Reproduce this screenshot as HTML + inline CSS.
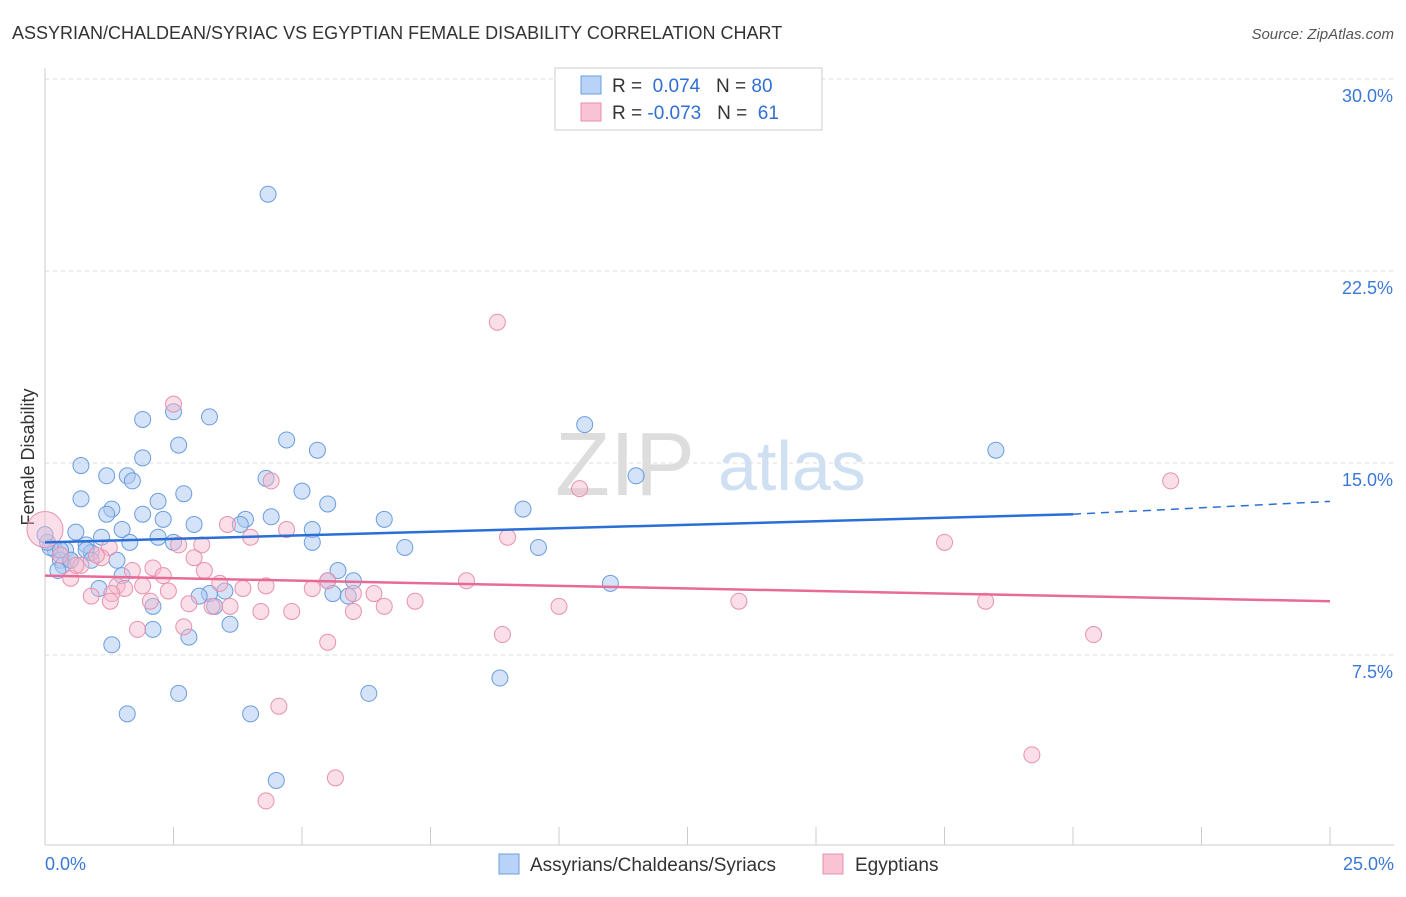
<!DOCTYPE html>
<html><head><meta charset="utf-8"><style>
body{margin:0;background:#fff;font-family:"Liberation Sans",sans-serif}
svg text{font-family:"Liberation Sans",sans-serif}
</style></head><body>
<svg id="c" width="1406" height="892">
<text x="12" y="39" font-size="18" fill="#333">ASSYRIAN/CHALDEAN/SYRIAC VS EGYPTIAN FEMALE DISABILITY CORRELATION CHART</text>
<text x="1394" y="39" font-size="15" fill="#555" font-style="italic" text-anchor="end">Source: ZipAtlas.com</text>
<text x="34" y="457" font-size="18" fill="#333" transform="rotate(-90 34 457)" text-anchor="middle">Female Disability</text>
<text x="555" y="495" font-size="90" fill="#ddd" font-family="Liberation Serif">ZIP</text>
<text x="718" y="490" font-size="70" fill="#cfe0f3">atlas</text>
<g id="grid"></g><g id="pts"></g><g id="lines"></g>
<g>
<rect x="555" y="68" width="267" height="62" fill="#fff" stroke="#ccc"/>
<rect x="581" y="76" width="20" height="18" fill="#b8d3f5" stroke="#6a9de0"/>
<rect x="581" y="103" width="20" height="18" fill="#f9c3d4" stroke="#e891ad"/>
<text x="612" y="92" font-size="19" fill="#333">R = <tspan fill="#2f6fd4">&#160;0.074</tspan>&#160;&#160;&#160;N = <tspan fill="#2f6fd4">80</tspan></text>
<text x="612" y="119" font-size="19" fill="#333">R = <tspan fill="#2f6fd4">-0.073</tspan>&#160;&#160;&#160;N = <tspan fill="#2f6fd4">&#160;61</tspan></text>
</g>
<g>
<rect x="499" y="854" width="20" height="20" fill="#b8d3f5" stroke="#6a9de0"/>
<text x="530" y="871" font-size="19" fill="#333">Assyrians/Chaldeans/Syriacs</text>
<rect x="823" y="854" width="20" height="20" fill="#f9c3d4" stroke="#e891ad"/>
<text x="855" y="871" font-size="19" fill="#333">Egyptians</text>
</g>
<text x="45" y="870" font-size="18" fill="#3a78d8">0.0%</text>
<text x="1394" y="870" font-size="18" fill="#3a78d8" text-anchor="end">25.0%</text>
</svg>
<script>
const yTicks=[7.5,15,22.5,30];
const yTickLabels=["7.5%","15.0%","22.5%","30.0%"];
const blueX=[4.34,10.5,18.5,11.5,1.9,2.5,3.2,4.7,5.3,2.6,0.7,1.9,1.6,1.2,1.7,4.3,5.0,2.7,0.7,2.2,5.5,1.3,1.2,1.9,2.3,3.9,4.4,6.6,9.3,2.9,3.8,5.2,1.5,0.6,2.2,5.2,1.1,2.5,0.8,9.6,7.0,0.2,0.1,0.4,0.9,0.3,0.5,1.4,0.35,0.25,1.5,5.7,5.5,6.0,11.0,1.05,3.5,3.2,3.0,5.6,5.9,3.3,2.1,3.6,2.1,2.8,1.3,8.85,2.6,6.3,1.6,4.0,4.5,0.05,0.5,0.8,1.65,0,0.3,0.9];
const blueY=[25.5,16.5,15.5,14.5,16.7,17.0,16.8,15.9,15.5,15.7,14.9,15.2,14.5,14.5,14.3,14.4,13.9,13.8,13.6,13.5,13.4,13.2,13.0,13.0,12.8,12.8,12.9,12.8,13.2,12.6,12.6,12.4,12.4,12.3,12.1,11.9,12.1,11.9,11.8,11.7,11.7,11.6,11.7,11.6,11.5,11.2,11.2,11.2,11.0,10.8,10.6,10.8,10.4,10.4,10.3,10.1,10.0,9.9,9.8,9.9,9.8,9.4,9.4,8.7,8.5,8.2,7.9,6.6,6.0,6.0,5.2,5.2,2.6,11.9,11.2,11.6,11.9,12.2,11.6,11.2];
const pinkX=[8.8,2.5,4.4,10.4,21.9,3.55,4.7,3.05,4.0,2.6,17.5,9.0,1.25,1.1,1.7,2.9,0.7,0.5,2.1,2.3,3.1,1.4,1.9,1.55,2.4,1.3,0.9,3.4,4.3,3.85,5.2,5.5,6.0,6.4,7.2,8.2,10.0,13.5,18.3,2.8,3.25,3.6,4.2,4.8,6.0,6.6,1.8,2.7,1.27,8.9,5.5,20.4,4.55,19.2,5.65,4.3,0,0.3,0.6,1.0,2.05];
const pinkY=[20.5,17.3,14.3,14.0,14.3,12.6,12.4,11.8,12.1,11.8,11.9,12.1,11.7,11.3,10.8,11.3,11.0,10.5,10.9,10.6,10.8,10.2,10.2,10.1,10.0,9.9,9.8,10.3,10.2,10.1,10.1,10.4,9.9,9.9,9.6,10.4,9.4,9.6,9.6,9.5,9.4,9.4,9.2,9.2,9.2,9.4,8.5,8.6,9.6,8.3,8.0,8.3,5.5,3.6,2.7,1.8,12.4,11.4,11.0,11.4,9.6];
const blueTrend=[11.9,13.0,13.5];const pinkTrend=[10.6,9.6];
const X=v=>45+v/25*1285, Y=v=>847-v*25.6;
const NS="http://www.w3.org/2000/svg";
function mk(t,a,p){const e=document.createElementNS(NS,t);for(const k in a)e.setAttribute(k,a[k]);document.getElementById(p).appendChild(e);return e;}
yTicks.forEach((t,i)=>{
 const l=mk('line',{x1:45,x2:1394,y1:Y(t),y2:Y(t),stroke:'#ddd','stroke-dasharray':'4 4'},'grid');
 
 
 const tx=mk('text',{x:1393,y:Y(t)+23,'font-size':18,fill:'#3a78d8','text-anchor':'end'},'grid');tx.textContent=yTickLabels[i];
 
 
});
mk('line',{x1:45,x2:45,y1:68,y2:845,stroke:'#ccc'},'grid');
mk('line',{x1:45,x2:1394,y1:845,y2:845,stroke:'#ccc'},'grid');
for(let i=0;i<=10;i++){const t=mk('line',{x1:X(i*2.5),x2:X(i*2.5),y1:827,y2:845,stroke:'#ccc'},'grid');
 
 }
blueX.forEach((v,i)=>{const c=mk('circle',{cx:X(v),cy:Y(blueY[i]),r:8,fill:'#a9c8f0',"fill-opacity":0.5,stroke:'#6a9de0'},'pts');
 
 });
pinkX.forEach((v,i)=>{const c=mk('circle',{cx:X(v),cy:Y(pinkY[i]),r:i==56?18:8,fill:'#f7b8cc',"fill-opacity":0.45,stroke:'#e891ad'},'pts');
 
 });
let l=mk('line',{x1:X(0),y1:Y(blueTrend[0]),x2:X(20),y2:Y(blueTrend[1]),stroke:'#2a6fd6','stroke-width':2.5},'lines');


l=mk('line',{x1:X(20),y1:Y(blueTrend[1]),x2:X(25),y2:Y(blueTrend[2]),stroke:'#2a6fd6','stroke-width':1.5,'stroke-dasharray':'8 6'},'lines');


l=mk('line',{x1:X(0),y1:Y(pinkTrend[0]),x2:X(25),y2:Y(pinkTrend[1]),stroke:'#e86a97','stroke-width':2.5},'lines');


</script>
</body></html>
